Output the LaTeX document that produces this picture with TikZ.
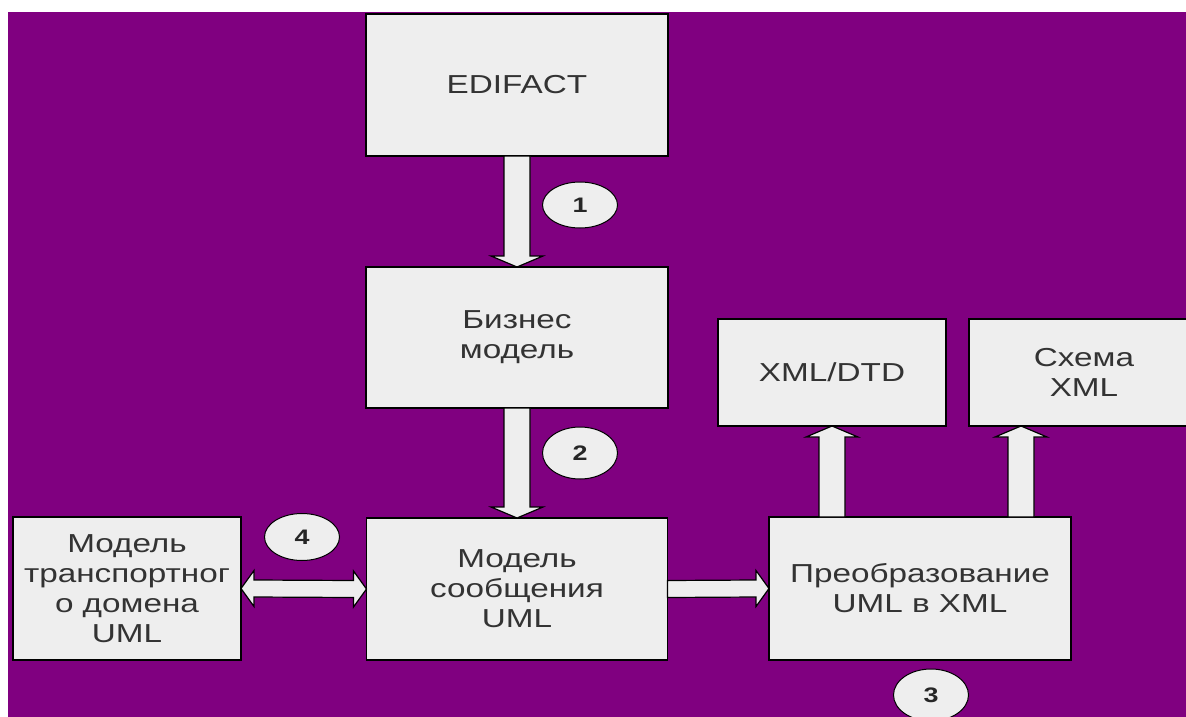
\documentclass[tikz,border=0pt]{standalone}
\usepackage{fontspec}
\setmainfont{Liberation Sans}[FakeStretch=1.28]
\usetikzlibrary{calc,shapes.geometric}
\definecolor{bgpurple}{HTML}{800080}
\definecolor{boxgray}{HTML}{EEEEEE}

% vertical block arrow: #1 start, #2 tip, #3 = 1 (down) or -1 (up)
\newcommand{\vblockarrow}[3]{%
  \draw[blockarrow] ($(#1)+(-13,0)$) -- ($(#2)+(-13,-11*#3)$) -- ($(#2)+(-26,-11*#3)$)
    -- (#2) -- ($(#2)+(26,-11*#3)$) -- ($(#2)+(13,-11*#3)$) -- ($(#1)+(13,0)$) -- cycle;}
% horizontal block arrow: #1 start, #2 tip, #3 = 1 (right) or -1 (left)
\newcommand{\hblockarrow}[3]{%
  \draw[blockarrow] ($(#1)+(0,-8.5)$) -- ($(#2)+(-13*#3,-8.5)$) -- ($(#2)+(-13*#3,-18)$)
    -- (#2) -- ($(#2)+(-13*#3,18)$) -- ($(#2)+(-13*#3,8.5)$) -- ($(#1)+(0,8.5)$) -- cycle;}

\begin{document}
\begin{tikzpicture}[x=1pt,y=-1pt,
  box/.style={draw=black, line width=1.4pt, fill=boxgray, align=center,
    inner sep=0pt, outer sep=0pt, text=black!80,
    font=\fontsize{26}{30}\selectfont},
  badge/.style={ellipse, draw=black, line width=1pt, fill=boxgray,
    minimum width=75pt, inner sep=0pt, outer sep=0pt,
    font=\fontsize{21}{21}\selectfont\bfseries, text=black!85},
  blockarrow/.style={draw=black, line width=1.2pt, fill=boxgray, line join=miter}]

\useasboundingbox (0,0) rectangle (1186,717);
\clip (0,0) rectangle (1186,717);
\fill[bgpurple] (8,12) rectangle (1186,717);

% boxes
\node[box, minimum width=302pt, minimum height=142pt] (edi) at (517,85) {EDIFACT};
\node[box, minimum width=302pt, minimum height=141pt] (biz) at (517,337.5) {Бизнес\\модель};
\node[box, minimum width=301pt, minimum height=142pt] (msg) at (517,589) {Модель\\сообщения\\UML};
\node[box, minimum width=228pt, minimum height=143pt] (trn) at (127,588.5) {Модель\\транспортног\\о домена\\UML};
\node[box, minimum width=302pt, minimum height=143pt] (xfm) at (920,588.5) {Преобразование\\UML в XML};
\node[box, minimum width=228pt, minimum height=107pt] (dtd) at (832,372.5) {XML/DTD};
\node[box, minimum width=230pt, minimum height=107pt] (xsd) at (1084,372.5) {Схема\\XML};

% numbered badges
\node[badge, minimum height=46pt] (n1) at (580,205) {1};
\node[badge, minimum height=52pt] (n2) at (580,453) {2};
\node[badge, minimum height=52pt] (n3) at (931,695) {3};
\node[badge, minimum height=47pt] (n4) at (302,537) {4};

% connector end points
\coordinate (a1s) at (edi.south);
\coordinate (a1t) at (biz.north);
\coordinate (a2s) at (biz.south);
\coordinate (a2t) at (msg.north);
\coordinate (a3s) at (msg.east);
\coordinate (a3t) at (xfm.west);
\coordinate (a5s) at (xfm.north -| dtd.south);
\coordinate (a5t) at (dtd.south);
\coordinate (a6s) at ($(xfm.north east)+(-50,0)$);
\coordinate (a6t) at (xsd.south -| a6s);
\coordinate (d1) at (trn.east);
\coordinate (d2) at (msg.west);

% block arrows
\vblockarrow{a1s}{a1t}{1}
\vblockarrow{a2s}{a2t}{1}
\hblockarrow{a3s}{a3t}{1}
\vblockarrow{a5s}{a5t}{-1}
\vblockarrow{a6s}{a6t}{-1}
\draw[blockarrow] (d1) -- ($(d1)+(13,-18)$) -- ($(d1)+(13,-8.5)$) -- ($(d2)+(-13,-8.5)$)
  -- ($(d2)+(-13,-18)$) -- (d2) -- ($(d2)+(-13,18)$) -- ($(d2)+(-13,8.5)$)
  -- ($(d1)+(13,8.5)$) -- ($(d1)+(13,18)$) -- cycle;
\end{tikzpicture}
\end{document}
